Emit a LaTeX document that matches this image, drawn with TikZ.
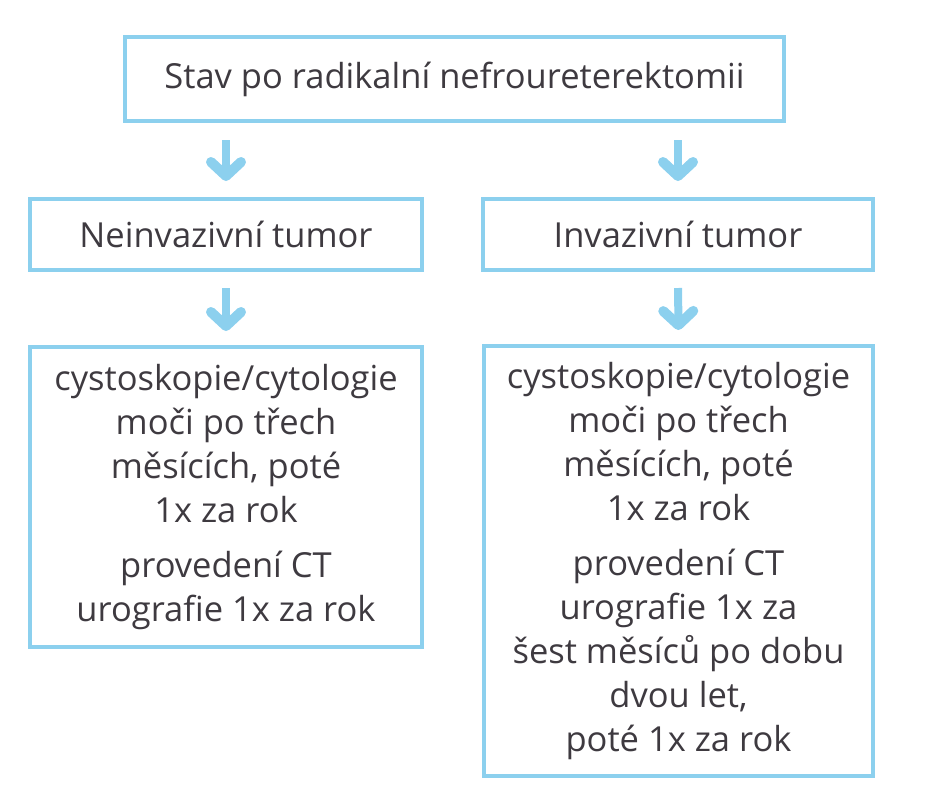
\documentclass[tikz,border=0pt]{standalone}
\usepackage{fontspec}
\setmainfont{Open Sans}
\usetikzlibrary{arrows.meta}
\definecolor{boxblue}{RGB}{140,208,238}
\definecolor{txtcol}{RGB}{62,58,64}
\begin{document}
\begin{tikzpicture}[x=1pt,y=-1pt,
  box/.style={draw=boxblue,line width=4pt,rectangle,inner sep=0pt,text=txtcol,align=center,font=\fontsize{34.5}{44}\selectfont},
  flow/.style={draw=boxblue,line width=8pt,-{Straight Barb[length=14pt,width=30pt,line width=10pt,round]}}]
\useasboundingbox (0,0) rectangle (933,800);
\node[box,minimum width=659pt,minimum height=84pt] (top) at (454.5,79) {Stav po radikalní nefroureterektomii};
\node[box,minimum width=392pt,minimum height=71pt] (lmid) at (226,234.5) {Neinvazivní tumor};
\node[box,minimum width=390pt,minimum height=71pt] (rmid) at (678,234.5) {Invazivní tumor};
\node[box,minimum width=392pt,minimum height=300pt] (lbot) at (226,497) {cystoskopie/cytologie\\ moči po třech\\ měsících, poté\\ 1x za rok\\[11pt] provedení CT\\ urografie 1x za rok};
\node[box,minimum width=389pt,minimum height=430pt] (rbot) at (678.5,561) {cystoskopie/cytologie\\ moči po třech\\ měsících, poté\\ 1x za rok\\[11pt] provedení CT\\ urografie 1x za\\ šest měsíců po dobu\\ dvou let,\\ poté 1x za rok};
\draw[flow,shorten <=17pt,shorten >=16pt] (top.south -| lmid.north) -- (lmid.north);
\draw[flow,shorten <=17pt,shorten >=16pt] (top.south -| rmid.north) -- (rmid.north);
\draw[flow,shorten <=16pt,shorten >=14pt] (lmid.south) -- (lbot.north);
\draw[flow,shorten <=16pt,shorten >=14pt] (rmid.south) -- (rbot.north);
\end{tikzpicture}
\end{document}
